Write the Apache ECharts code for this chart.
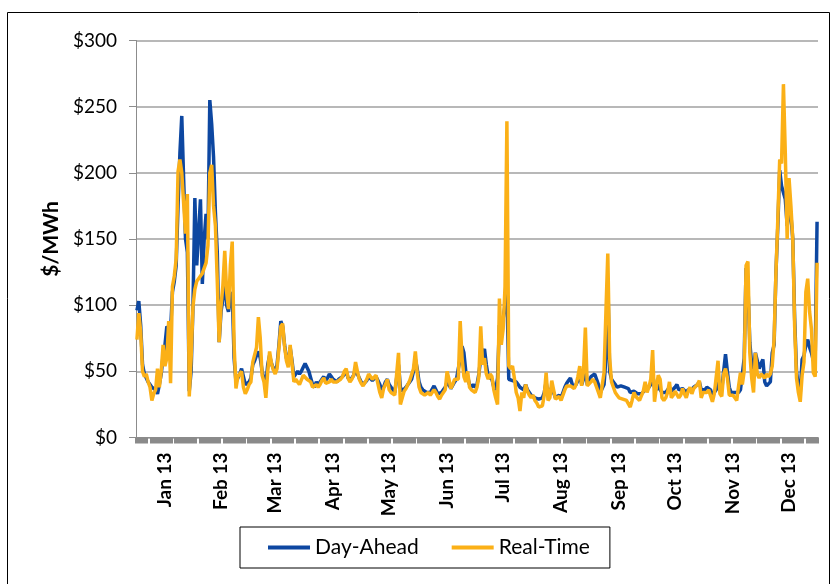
<!DOCTYPE html>
<html><head><meta charset="utf-8">
<script src="https://cdn.jsdelivr.net/npm/echarts@6/dist/echarts.min.js"></script>
<style>html,body{margin:0;padding:0;background:#fff}#c{width:832px;height:584px}</style>
</head><body><div id="c"></div><script>
// Month tick labels and lengths (2013, daily data)
const monthLabels = ['Jan 13','Feb 13','Mar 13','Apr 13','May 13','Jun 13','Jul 13','Aug 13','Sep 13','Oct 13','Nov 13','Dec 13'];
const monthDays = [31,28,31,30,31,30,31,31,30,31,30,31];
const seriesNames = ['Day-Ahead','Real-Time'];

// Daily Day-Ahead price, $/MWh (one line per month)
const dayAhead = [
  96,103,85,55,48,47,42,40,38,37,36,33,40,48,62,70,84,84,80,110,118,130,175,215,243,195,150,140,35,50,100,
  181,130,155,180,116,150,169,150,255,237,212,170,140,72,95,105,125,100,95,105,110,60,42,45,48,52,46,40,
  40,42,45,55,58,62,65,60,50,44,40,55,62,56,52,50,55,70,88,84,70,60,55,68,58,46,48,50,48,50,53,
  56,57,50,45,40,38,42,40,42,44,46,43,45,48,46,44,43,42,44,45,46,48,50,45,43,45,47,52,48,45,
  42,40,40,43,46,45,43,44,46,47,40,36,38,42,44,40,38,36,34,45,55,38,35,36,38,40,42,44,50,59,52,
  42,38,36,35,34,35,34,35,39,36,33,32,34,36,38,42,40,37,38,42,44,45,60,69,64,50,46,40,38,40,
  38,40,48,60,62,67,55,46,45,44,38,36,45,85,80,90,100,112,44,45,43,42,42,40,38,37,36,40,36,34,32,
  32,30,30,29,28,30,34,42,32,35,38,34,30,30,32,30,30,38,41,43,45,40,38,40,43,48,40,44,55,40,42,
  46,47,48,44,40,34,33,40,60,120,50,44,42,40,38,38,39,39,38,37,37,34,35,35,34,33,34,33,34,36,
  35,38,40,48,38,36,40,36,34,33,34,35,38,35,36,38,40,36,35,37,36,34,36,37,36,38,39,40,42,36,37,
  36,38,37,36,32,34,36,45,38,36,50,63,50,38,34,35,34,33,34,36,35,60,128,115,72,55,52,64,58,52,
  56,59,42,39,40,42,64,70,125,160,202,190,190,180,160,170,168,150,90,50,38,34,59,62,70,74,68,64,58,60,163
];

// Daily Real-Time price, $/MWh (one line per month)
const realTime = [
  74,94,80,50,46,48,42,38,28,33,36,52,38,50,70,54,60,88,41,114,122,135,201,210,200,177,154,184,31,60,99,
  112,118,120,122,124,128,132,145,200,206,175,160,118,72,99,115,141,110,97,130,148,70,37,46,47,50,38,33,
  36,40,42,57,56,68,91,75,47,42,30,50,65,56,51,48,52,68,84,86,69,58,53,70,56,42,44,42,40,39,47,
  46,44,44,42,38,37,40,38,40,43,45,41,42,42,44,42,41,42,43,44,46,50,52,45,42,44,47,57,50,44,
  41,39,39,44,48,46,44,44,47,47,34,30,37,40,44,36,34,33,32,48,64,25,30,35,37,40,43,44,52,65,49,
  38,34,33,32,33,34,32,33,36,34,31,29,32,34,36,50,44,37,40,44,45,44,88,60,46,42,50,38,36,35,
  34,38,46,84,55,60,48,44,48,46,36,30,25,105,70,82,114,239,54,52,54,45,34,30,20,34,30,40,35,32,30,
  32,28,26,23,24,24,32,49,28,30,43,36,29,30,31,28,29,36,39,38,39,38,37,40,46,54,39,50,83,39,40,
  42,44,42,38,34,30,29,49,95,139,60,42,38,34,32,30,31,29,30,28,27,23,28,34,31,30,28,27,35,42,
  34,38,44,66,27,38,47,44,30,28,30,34,42,30,32,35,34,30,32,37,33,30,35,38,33,37,38,40,43,30,34,
  35,34,36,35,27,33,34,58,33,31,48,52,45,32,32,32,30,28,39,49,40,50,130,133,64,45,34,64,48,45,
  48,48,45,48,46,48,54,74,125,165,210,207,267,215,150,196,175,150,84,45,34,27,47,57,110,120,95,82,49,46,132
];

// Build daily categories and mid-month label positions
const days = [];
const labelAt = {};
let start = 0;
monthDays.forEach((n, m) => {
  for (let d = 1; d <= n; d++) {
    days.push('2013-' + String(m + 1).padStart(2, '0') + '-' + String(d).padStart(2, '0'));
  }
  labelAt[start + Math.floor(n / 2)] = monthLabels[m];
  start += n;
});

const chart = echarts.init(document.getElementById('c'), null, {renderer: 'canvas'});
chart.setOption({
  animation: false,
  backgroundColor: '#fff',
  graphic: [{
    type: 'rect', silent: true, z: 100,
    shape: {x: 7.5, y: 12.5, width: 822, height: 620},
    style: {fill: 'none', stroke: '#000', lineWidth: 1}
  }],
  grid: {left: 136, right: 14, top: 40.5, bottom: 146.5, containLabel: false},
  legend: {
    data: seriesNames,
    left: 240, top: 527, orient: 'horizontal',
    icon: 'rect', itemWidth: 42, itemHeight: 4, itemGap: 33,
    padding: [10, 20, 10, 28],
    borderColor: '#000', borderWidth: 1,
    textStyle: {fontFamily: 'Lato', fontSize: 21, color: '#000'}
  },
  xAxis: {
    type: 'category', data: days, boundaryGap: true,
    axisLine: {show: true, lineStyle: {color: '#8c8c8c', width: 1}},
    axisTick: {
      show: true, inside: false, length: 6,
      interval: function (i) { return (i - 7) % 13 !== 0; },
      lineStyle: {color: '#8a8a8a', width: 2}
    },
    axisLabel: {
      interval: function (i) { return labelAt[i] !== undefined; },
      formatter: function (v, i) { return labelAt[i] || ''; },
      rotate: 90, margin: 15,
      fontFamily: 'Lato', fontWeight: 'bold', fontSize: 19, color: '#000'
    },
    splitLine: {show: false}
  },
  yAxis: {
    type: 'value', min: 0, max: 300, interval: 50,
    name: '$/MWh', nameLocation: 'middle', nameGap: 69,
    nameTextStyle: {fontFamily: 'Lato', fontWeight: 'bold', fontSize: 21, color: '#000'},
    axisLine: {show: true, lineStyle: {color: '#8c8c8c', width: 1}},
    axisTick: {show: true, length: 7, lineStyle: {color: '#8c8c8c'}},
    axisLabel: {formatter: function (v) { return '$' + v; }, fontFamily: 'Lato', fontSize: 19, color: '#000', margin: 19},
    splitLine: {show: true, lineStyle: {color: '#a0a0a0', width: 1.5}}
  },
  series: [
    {name: seriesNames[0], type: 'line', data: dayAhead, symbol: 'none', smooth: false,
     lineStyle: {color: '#0D47A1', width: 3.5}, itemStyle: {color: '#0D47A1'}},
    {name: seriesNames[1], type: 'line', data: realTime, symbol: 'none', smooth: false,
     lineStyle: {color: '#FBB017', width: 3.5}, itemStyle: {color: '#FBB017'}}
  ]
});
</script></body></html>
